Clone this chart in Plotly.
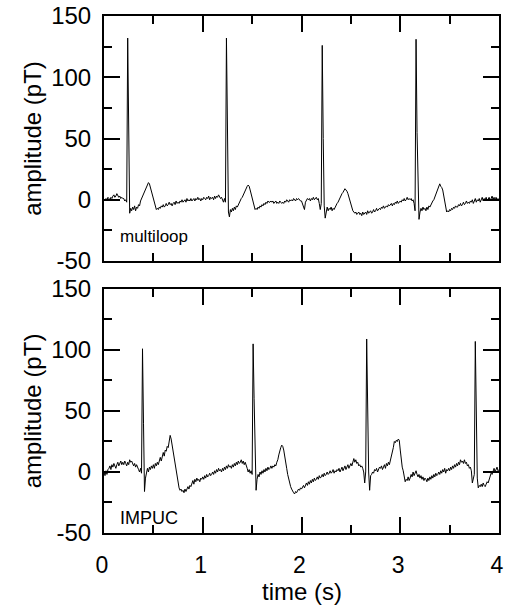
import plotly.graph_objects as go

# ---------------- data ----------------
T_START = 0.0
T_STEP = 0.01

# upper panel: multiloop, amplitude in pT, one value every 0.01 s from 0 to 4 s
MULTILOOP = [
    0, -1, 1, 0, 2, 1, 0, 2, 1, 3,
    4, 2, 3, 5, 3, 2, 3, 1, 2, 1,
    1, -1, 0, -2, 132, 45, -11, -7, -9, -6,
    -8, -5, -9, -6, -7, -4, -5, -1, 1, 3,
    5, 7, 9, 11, 12, 14, 13, 10, 7, 4,
    1, -3, -6, -8, -7, -8, -6, -7, -5, -6,
    -4, -6, -5, -3, -5, -4, -2, -4, -3, -5,
    -3, -2, -4, -1, -3, -2, -3, -1, -2, 0,
    -2, -1, 0, -2, 1, -1, 0, -1, 1, -1,
    0, 1, -1, 1, 0, 2, 0, 1, -1, 1,
    0, 2, 1, 0, 2, 1, 3, 0, 2, 1,
    2, 0, 3, 1, 3, 2, 4, 2, 1, 2,
    0, -2, 1, -2, 132, 50, -10, -14, -8, -10,
    -7, -9, -6, -8, -5, -6, -4, -2, -1, 1,
    2, 4, 6, 8, 10, 11, 12, 11, 8, 5,
    1, -3, -6, -8, -7, -8, -6, -7, -5, -6,
    -4, -5, -3, -4, -2, -3, -1, -2, -2, -1,
    -2, -1, -3, -2, -1, -3, -2, -3, -1, -2,
    -3, -2, -3, -1, -2, 0, -1, -2, 0, -1,
    0, -1, 1, 0, -1, 1, 0, 1, 0, -1,
    -1, -3, -5, -8, -2, 0, 1, 0, 1, -1,
    1, 0, 2, 0, 1, 2, 0, 1, -3, -8,
    -3, 126, 50, -5, -15, -10, -6, -9, -7, -8,
    -6, -9, -7, -8, -6, -5, -3, -2, 0, 1,
    3, 5, 6, 8, 9, 8, 7, 5, 2, -1,
    -5, -7, -9, -10, -11, -10, -12, -11, -10, -12,
    -11, -13, -10, -12, -11, -10, -12, -9, -11, -10,
    -9, -11, -10, -8, -10, -9, -7, -9, -8, -7,
    -8, -6, -7, -5, -7, -6, -5, -6, -4, -5,
    -4, -3, -5, -3, -4, -2, -3, -1, -3, -2,
    -1, -2, 0, -1, 1, -1, 0, 2, 0, 1,
    0, 1, -1, 0, -3, -9, 131, 55, -2, -16,
    -10, -7, -9, -6, -8, -7, -9, -6, -8, -5,
    -6, -4, -3, -1, 0, 2, 4, 6, 8, 10,
    13, 11, 10, 8, 4, -1, -5, -10, -9, -10,
    -8, -9, -7, -8, -6, -7, -5, -6, -6, -4,
    -5, -3, -5, -4, -2, -4, -3, -1, -3, -2,
    -3, -1, -2, 0, -3, -1, 1, -2, 0, -1,
    1, -2, 0, 2, -1, 1, 0, 2, -1, 1,
    2, -1, 1, 3, 0, 2, -1, 2, 0, 1,
    0,
]

# lower panel: IMPUC, amplitude in pT, one value every 0.01 s from 0 to 4 s
IMPUC = [
    0, -3, 1, -2, 2, 3, 5, 2, 6, 4,
    7, 5, 3, 6, 8, 5, 7, 9, 6, 8,
    6, 9, 7, 5, 8, 6, 10, 8, 9, 7,
    5, 7, 4, 6, 3, 2, 0, 3, -1, 101,
    40, -16, -5, 1, 3, 0, 4, 2, 5, 3,
    6, 3, 7, 5, 8, 6, 10, 12, 9, 14,
    16, 13, 18, 17, 21, 20, 25, 30, 27, 22,
    18, 12, 5, 0, -5, -9, -13, -15, -14, -16,
    -15, -17, -14, -16, -13, -12, -14, -11, -12, -9,
    -7, -10, -6, -8, -5, -7, -6, -8, -5, -6,
    -4, -6, -3, -5, -2, -4, -3, -1, -3, -2,
    0, -2, 1, -1, 2, 0, 3, 1, 2, 0,
    3, 1, 4, 2, 5, 3, 6, 4, 5, 3,
    6, 4, 7, 5, 8, 6, 9, 7, 8, 10,
    7, 9, 6, 8, 4, 3, 0, 2, -1, 1,
    -2, 105, 60, 10, -15, -6, -2, -4, 0, -2,
    1, -1, 2, 0, 3, 1, 4, 2, 3, 5,
    3, 5, 4, 6, 5, 8, 10, 14, 18, 20,
    22, 21, 18, 14, 8, 3, -2, -6, -10, -12,
    -14, -16, -17, -18, -16, -17, -15, -14, -15, -13,
    -14, -12, -11, -13, -10, -9, -11, -8, -10, -7,
    -9, -6, -8, -5, -7, -6, -4, -6, -3, -5,
    -4, -2, -4, -1, -3, -2, 0, -2, -1, 1,
    -1, 0, 2, -1, 1, 0, 2, 1, 3, 0,
    2, 4, 1, 3, 5, 2, 4, 6, 3, 5,
    7, 5, 9, 11, 8, 10, 7, 8, 5, 6,
    4, 5, 3, 0, -9, 0, 109, 50, 0, -15,
    -3, -2, 0, -1, 2, 1, 3, 0, 2, 4,
    3, 5, 2, 4, 6, 3, 7, 5, 8, 6,
    9, 12, 15, 20, 25, 24, 26, 25, 27, 26,
    18, 10, 4, 1, -4, -8, -6, -7, -4, -7,
    -5, -2, -4, 0, -3, -1, 1, -2, -4, -2,
    -5, -3, -6, -4, -7, -5, -6, -8, -5, -7,
    -4, -6, -3, -5, -2, -4, -1, -3, -2, 0,
    -2, 1, -1, 2, 0, 3, -1, 2, 1, 3,
    1, 4, 2, 5, 3, 6, 4, 7, 5, 8,
    6, 10, 8, 9, 7, 10, 7, 8, 5, 6,
    3, 4, 1, -9, -5, -2, 107, 45, -5, -13,
    -11, -12, -10, -12, -9, -11, -12, -10, -8, -9,
    -6, -4, -1, -2, 1, 3, 0, 2, 4, 1,
    2,
]

X_TICKS = [0, 1, 2, 3, 4]
X_TICK_LABELS = ["0", "1", "2", "3", "4"]
X_MINOR = [0.5, 1.5, 2.5, 3.5]
Y_TICKS = [-50, 0, 50, 100, 150]
Y_TICK_LABELS = ["-50", "0", "50", "100", "150"]
Y_MINOR = [-25, 25, 75, 125]
PANEL_LABELS = ["multiloop", "IMPUC"]
X_TITLE = "time (s)"
Y_TITLE = "amplitude (pT)"

time_top = [round(T_START + i * T_STEP, 4) for i in range(len(MULTILOOP))]
time_bot = [round(T_START + i * T_STEP, 4) for i in range(len(IMPUC))]

FONT = "Liberation Sans, Arial, sans-serif"

fig = go.Figure()
fig.add_trace(go.Scatter(x=time_top, y=MULTILOOP, mode="lines",
                         line=dict(color="black", width=1),
                         xaxis="x", yaxis="y", showlegend=False))
fig.add_trace(go.Scatter(x=time_bot, y=IMPUC, mode="lines",
                         line=dict(color="black", width=1),
                         xaxis="x2", yaxis="y2", showlegend=False))

common_x = dict(range=[0, 4], tickmode="array", tickvals=X_TICKS, ticktext=X_TICK_LABELS,
                ticks="inside", ticklen=16, tickwidth=1.5, tickcolor="black",
                minor=dict(tickmode="array", tickvals=X_MINOR, ticks="inside",
                           ticklen=8, tickwidth=1.5, tickcolor="black"),
                showline=True, linecolor="black", linewidth=2, mirror="ticks",
                showgrid=False, zeroline=False, automargin=False,
                ticklabelshift=-2, ticklabelstandoff=10, ticklabeloverflow="allow",
                tickfont=dict(family=FONT, size=23, color="black"))
common_y = dict(range=[-50, 150], tickmode="array", tickvals=Y_TICKS, ticktext=Y_TICK_LABELS,
                ticks="inside", ticklen=16, tickwidth=1.5, tickcolor="black",
                minor=dict(tickmode="array", tickvals=Y_MINOR, ticks="inside",
                           ticklen=8, tickwidth=1.5, tickcolor="black"),
                showline=True, linecolor="black", linewidth=2, mirror="ticks",
                showgrid=False, zeroline=False, automargin=False,
                ticklabelstandoff=6, ticklabeloverflow="allow",
                tickfont=dict(family=FONT, size=24, color="black"),
                title=dict(text=Y_TITLE, font=dict(family=FONT, size=24, color="black"),
                           standoff=3))

fig.update_layout(
    width=505, height=612,
    margin=dict(l=104, r=6, t=16, b=79),
    paper_bgcolor="white", plot_bgcolor="white",
    xaxis=dict(common_x, domain=[0, 1], anchor="y", showticklabels=False),
    yaxis=dict(common_y, domain=[0.5261, 1], anchor="x"),
    xaxis2=dict(common_x, domain=[0, 1], anchor="y2", showticklabels=True),
    yaxis2=dict(common_y, domain=[0, 0.472], anchor="x2"),
    annotations=[
        dict(text=PANEL_LABELS[0], xref="x domain", yref="y domain", x=0.035, y=0.10,
             xanchor="left", yanchor="middle", showarrow=False,
             font=dict(family=FONT, size=17, color="black")),
        dict(text=PANEL_LABELS[1], xref="x2 domain", yref="y2 domain", x=0.035, y=0.06,
             xanchor="left", yanchor="middle", showarrow=False,
             font=dict(family=FONT, size=18, color="black")),
        dict(text=X_TITLE, xref="x2 domain", yref="paper", x=0.5, y=-0.1141,
             xanchor="center", yanchor="middle", showarrow=False,
             font=dict(family=FONT, size=24, color="black")),
    ],
)

fig.write_html("out.html", config={"displayModeBar": False},
               post_script="document.body.style.margin='0';document.body.style.overflow='hidden';")
